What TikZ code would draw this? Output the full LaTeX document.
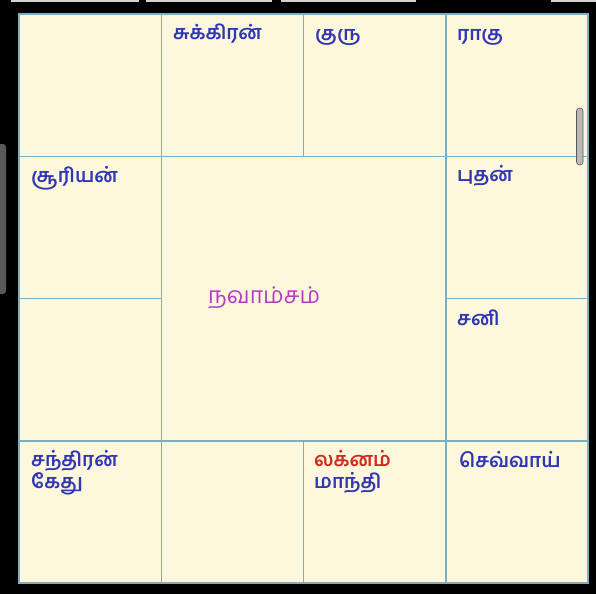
\documentclass[tikz,border=0pt]{standalone}
\usepackage{fontspec}
\newfontfamily\tamil[Script=Tamil]{Hind Madurai}
\definecolor{bgcream}{HTML}{FDF8DC}
\definecolor{gridc}{HTML}{7FAEBE}
\definecolor{planet}{HTML}{3036B4}
\definecolor{lagna}{HTML}{D02A20}
\definecolor{title}{HTML}{B43CC4}
\tikzset{
  lbl/.style={anchor=base west, inner sep=0pt, font=\tamil\bfseries\fontsize{19.5}{23}\selectfont, text=planet},
  gridline/.style={draw=gridc, line width=1.5pt},
}
\begin{document}
\begin{tikzpicture}[x=1pt,y=-1pt]
\fill[black] (0,0) rectangle (596,594);
\useasboundingbox (0,0) rectangle (596,594);
% top screenshot artifacts
\fill[gray!35] (11,0) rectangle (139,2.5);
\fill[gray!35] (146,0) rectangle (272,2.5);
\fill[gray!35] (281,0) rectangle (416,2.5);
\fill[gray!35] (551,0) rectangle (596,2.5);
% left grey tab
\fill[gray!70!black, rounded corners=3pt] (-5,144) rectangle (6,294);
% chart
\fill[bgcream] (19,14) rectangle (588,583);
\draw[gridline] (19,14) rectangle (588,583);
\foreach \v in {161.25,303.5,445.75} {
  \draw[gridline] (\v,14) -- (\v,583);
}
\draw[gridline] (19,156.25) -- (588,156.25);
\draw[gridline] (19,440.75) -- (588,440.75);
\draw[gridline] (19,298.5) -- (161.25,298.5);
\draw[gridline] (445.75,298.5) -- (588,298.5);
\fill[bgcream] (162,157) rectangle (445,440);
% scrollbar
\fill[gray!55, draw=gray!70!black, line width=0.6pt, rounded corners=3pt] (576.5,108) rectangle (583,165);
% labels
\node[lbl] (sukran) at (173,40) {சுக்கிரன்};
\node[lbl] (guru) at (315,41) {குரு};
\node[lbl] (ragu) at (457,41) {ராகு};
\node[lbl] (suriyan) at (31,182) {சூரியன்};
\node[lbl] (budhan) at (457,181) {புதன்};
\node[lbl] (sani) at (457,325) {சனி};
\node[lbl] (chandran) at (31,466) {சந்திரன்};
\node[lbl] (kethu) at (31,488) {கேது};
\node[lbl, text=lagna] (lagnam) at (314,466) {லக்னம்};
\node[lbl] (mandhi) at (314,488) {மாந்தி};
\node[lbl] (sevvai) at (459,467) {செவ்வாய்};
\node[lbl, text=title, font=\tamil\fontsize{23}{27}\selectfont] (navamsam) at (208,303) {நவாம்சம்};
\end{tikzpicture}
\end{document}
